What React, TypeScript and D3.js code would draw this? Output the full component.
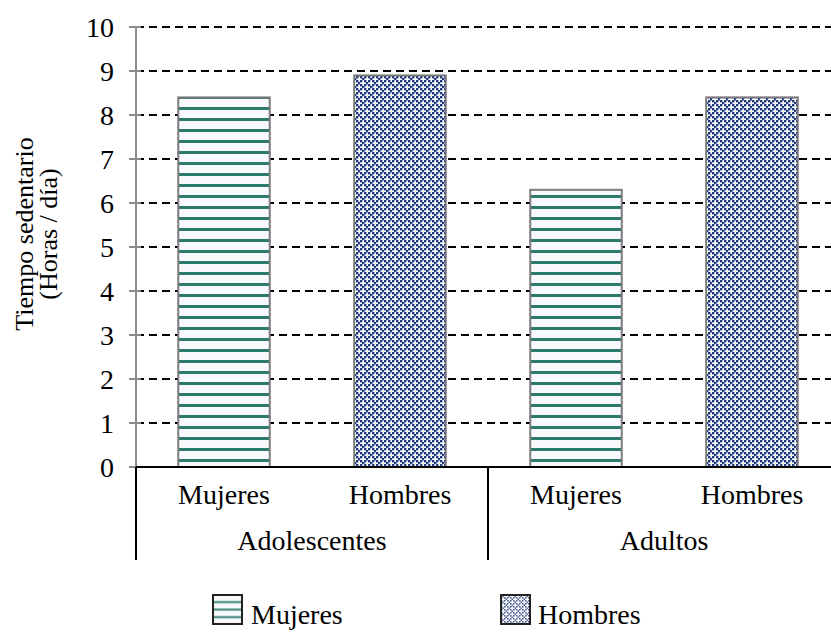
import React from "react";
import * as d3 from "d3";

const groups = ["Adolescentes", "Adultos"];
const sexes = ["Mujeres", "Hombres"];
const adolescentesValues = [8.4, 8.9];
const adultosValues = [6.3, 8.4];
const yTicks = [0, 1, 2, 3, 4, 5, 6, 7, 8, 9, 10];

const W = 831;
const H = 632;
const left = 136;
const right = 840;
const top = 27;
const bottom = 467;
const FONT = "Liberation Serif, Times New Roman, serif";

const TEAL = "#2a7a6c";
const NAVY = "#1f3a80";

const bars = [
  ...sexes.map((s, i) => ({ key: `Adolescentes-${s}`, group: groups[0], sex: s, value: adolescentesValues[i] })),
  ...sexes.map((s, i) => ({ key: `Adultos-${s}`, group: groups[1], sex: s, value: adultosValues[i] })),
];

export default function App() {
  const x = d3.scaleBand<string>().domain(bars.map((b) => b.key)).range([left, right]).paddingInner(0.48).paddingOuter(0.24);
  const y = d3.scaleLinear().domain([0, 10]).range([bottom, top]);
  const step = x.step();
  const groupWidth = step * 2;

  const checker = [
    [0, 0], [4, 0], [6, 2], [0, 4], [4, 4], [2, 6],
  ];
  const txt = { fontFamily: FONT };

  return (
    <svg width={W} height={H} style={{ position: "absolute", left: 0, top: 0, background: "#fff", fontFamily: FONT }}>
      <defs>
        <pattern id="pMuj" patternUnits="userSpaceOnUse" width={8} height={11} y={bottom}>
          <rect width={8} height={11} fill="#f8f9fc" />
          <rect y={3} width={8} height={3} fill={TEAL} />
        </pattern>
        <pattern id="pMujLeg" patternUnits="userSpaceOnUse" width={8} height={7.5} y={597}>
          <rect width={8} height={7.5} fill="#f8f9fc" />
          <rect y={4} width={8} height={2.2} fill={TEAL} opacity={0.85} />
        </pattern>
        <pattern id="pHom" patternUnits="userSpaceOnUse" width={8} height={8}>
          <rect width={8} height={8} fill="#fff" />
          {checker.map(([cx, cy], i) => (
            <rect key={i} x={cx} y={cy} width={2.4} height={2.4} fill={NAVY} />
          ))}
        </pattern>
        <pattern id="pHomLeg" patternUnits="userSpaceOnUse" width={6} height={6}>
          <rect width={6} height={6} fill="#fff" />
          {checker.map(([cx, cy], i) => (
            <rect key={i} x={cx * 0.75} y={cy * 0.75} width={1.6} height={1.6} fill={NAVY} opacity={0.8} />
          ))}
        </pattern>
      </defs>

      {/* gridlines */}
      {yTicks.filter((t) => t > 0).map((t) => (
        <line key={t} x1={left} x2={W} y1={y(t)} y2={y(t)} stroke="#000" strokeWidth={2} strokeDasharray="8,5" />
      ))}

      {/* bars */}
      {bars.map((b) => (
        <rect
          key={b.key}
          x={x(b.key)}
          y={y(b.value)}
          width={x.bandwidth()}
          height={bottom - y(b.value)}
          fill={b.sex === "Mujeres" ? "url(#pMuj)" : "url(#pHom)"}
          stroke="#7a7a7a"
          strokeWidth={2}
        />
      ))}

      {/* y axis */}
      <line x1={left} x2={left} y1={top} y2={bottom} stroke="#8c8c8c" strokeWidth={2} />
      {yTicks.map((t) => (
        <g key={t}>
          <line x1={left - 7} x2={left + 5} y1={y(t)} y2={y(t)} stroke="#8c8c8c" strokeWidth={2} />
          <text x={114} y={y(t)} dy="0.35em" textAnchor="end" fontSize={28} fill="#000" style={txt}>{t}</text>
        </g>
      ))}

      {/* x axis */}
      <line x1={left - 7} x2={left} y1={bottom} y2={bottom} stroke="#8c8c8c" strokeWidth={2} />
      <line x1={left} x2={W} y1={bottom} y2={bottom} stroke="#000" strokeWidth={2} />
      {[0, 1, 2].map((i) => (
        <line key={i} x1={left + i * groupWidth} x2={left + i * groupWidth} y1={bottom} y2={560} stroke="#000" strokeWidth={2} />
      ))}
      {bars.map((b) => (
        <text key={b.key} x={(x(b.key) as number) + x.bandwidth() / 2} y={504} textAnchor="middle" fontSize={28} fill="#000" style={txt}>{b.sex}</text>
      ))}
      {groups.map((g, i) => (
        <text key={g} x={left + i * groupWidth + groupWidth / 2} y={550} textAnchor="middle" fontSize={28} fill="#000" style={txt}>{g}</text>
      ))}

      {/* y title */}
      <g transform="translate(24,234) rotate(-90)">
        <text x={0} y={0} dy="0.35em" textAnchor="middle" fontSize={26} fill="#000" style={txt}>Tiempo sedentario</text>
        <text x={0} y={24} dy="0.35em" textAnchor="middle" fontSize={26} fill="#000" style={txt}>(Horas / día)</text>
      </g>

      {/* legend */}
      <rect x={213} y={595} width={29} height={29} fill="url(#pMujLeg)" stroke="#222" strokeWidth={2} />
      <text x={251} y={624} fontSize={28} fill="#000" style={txt}>Mujeres</text>
      <rect x={501} y={595} width={29} height={29} fill="url(#pHomLeg)" stroke="#222" strokeWidth={2} />
      <text x={538} y={624} fontSize={28} fill="#000" style={txt}>Hombres</text>
    </svg>
  );
}
